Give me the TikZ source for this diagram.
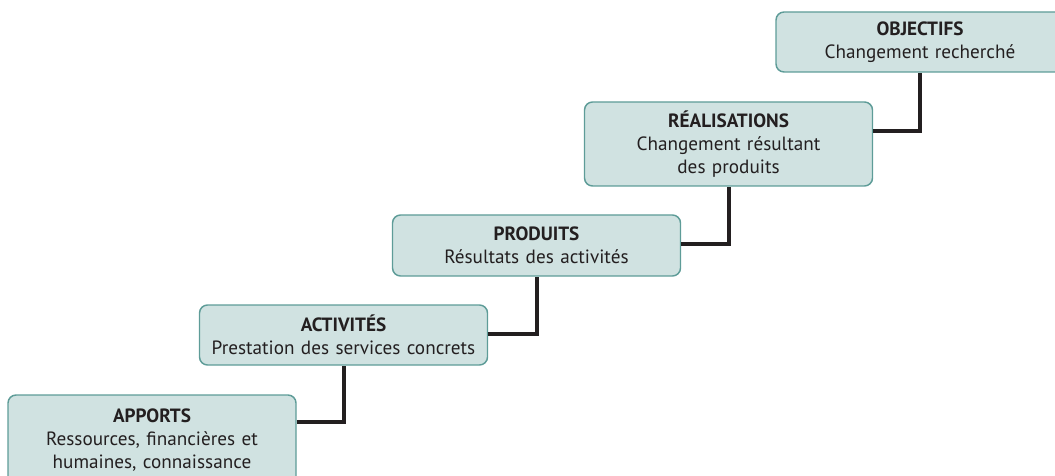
\documentclass[tikz,border=0pt]{standalone}
\usepackage{fontspec}
\setmainfont{PT Sans}
\usetikzlibrary{positioning}
\definecolor{boxfill}{HTML}{D0E2E1}
\definecolor{boxline}{HTML}{5E9C98}
\definecolor{linkcol}{HTML}{231F20}
\tikzset{%
  stage/.style={draw=boxline,fill=boxfill,line width=1.1pt,rounded corners=6pt,
    align=center,text width=205pt,minimum width=216pt,inner sep=0pt,
    font=\fontsize{14.4}{17.3}\selectfont,text=linkcol},
  link/.style={draw=linkcol,line width=3pt}
}
\newcommand\stagetext[2]{\textbf{#1}\\#2}

\begin{document}
\begin{tikzpicture}[x=0.75pt,y=0.75pt]
	%% page frame
	\useasboundingbox (0,0) rectangle (1055,475);
	
	\def\drop{22.5pt} % exit of each link below the box top
	
	%% the five steps
	\node[stage,minimum height=67.5pt] (apports) at (152,35)
	  {\stagetext{APPORTS}{Ressources, financières et\\humaines, connaissance}\\[14pt]};
	\node[stage,minimum height=45pt] (activites) at (343.5,140)
	  {\stagetext{ACTIVITÉS}{Prestation des services concrets}};
	\node[stage,minimum height=45.75pt] (produits) at (536.5,229.5)
	  {\stagetext{PRODUITS}{Résultats des activités}};
	\node[stage,minimum height=63pt] (realisations) at (728.5,331)
	  {\stagetext{RÉALISATIONS}{Changement résultant\\des produits}};
	\node[stage,minimum height=45pt] (objectifs) at (920,433)
	  {\stagetext{OBJECTIFS}{Changement recherché}};
	
	%% steps joined from right side to bottom of the next one
	\draw[link] ([yshift=-\drop+2pt]apports.north east) -| (activites.south);
	\draw[link] ([yshift=-\drop]activites.north east) -| (produits.south);
	\draw[link] ([yshift=-\drop]produits.north east) -| (realisations.south);
	\draw[link] ([yshift=-\drop]realisations.north east) -| (objectifs.south);
	
\end{tikzpicture}
\end{document}
